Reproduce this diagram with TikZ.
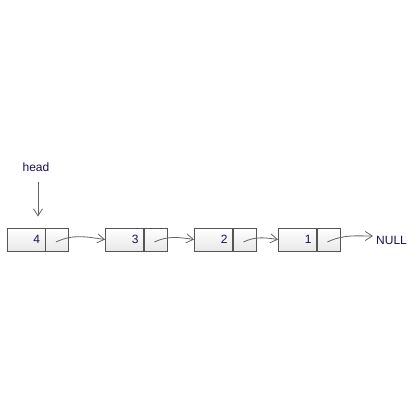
\documentclass[tikz,border=0pt]{standalone}
\usepackage{fontspec}
\setmainfont{Liberation Sans}
\usetikzlibrary{arrows.meta,calc}
\definecolor{txt}{RGB}{30,12,80}
\definecolor{edge}{RGB}{85,85,85}
\definecolor{wire}{RGB}{100,100,100}
\tikzset{
  datacell/.style={draw=edge, line width=0.9pt, top color=white, bottom color=black!9,
    minimum height=23pt, inner xsep=5pt, inner ysep=0pt, text width=28pt, align=right,
    font=\fontsize{12}{14}\selectfont, text=txt},
  ptrcell/.style={draw=edge, line width=0.9pt, top color=white, bottom color=black!9,
    minimum height=23pt, minimum width=23pt, inner sep=0pt, anchor=west},
  lbl/.style={font=\fontsize{12}{14}\selectfont, text=txt, inner sep=2pt},
  link/.style={draw=wire, line width=0.8pt, -{Straight Barb[length=7pt,width=9pt]}},
}
\begin{document}
\begin{tikzpicture}[x=1pt,y=1pt]
\useasboundingbox (0,0) rectangle (420,420);
% nodes
\node[datacell] (d1) at (26,180.5) {4};
\node[ptrcell] (p1) at (d1.east) {};
\node[datacell] (d2) at (124.5,180.5) {3};
\node[ptrcell] (p2) at (d2.east) {};
\node[datacell] (d3) at (213.5,180.5) {2};
\node[ptrcell] (p3) at (d3.east) {};
\node[datacell] (d4) at (297.5,180.5) {1};
\node[ptrcell] (p4) at (d4.east) {};
\node[lbl] (head) at (36,253) {head};
\node[lbl, anchor=west] (null) at (374,180) {NULL};
\coordinate (ht) at (38,238);
% connectors
\draw[link, shorten >=11pt] (ht) -- (d1.north -| ht);
\draw[link] ($(p1.center)+(-1.5,-2.5)$) to[out=25,in=172] (d2.west);
\draw[link] ($(p2.center)+(-1.5,-2.5)$) to[out=25,in=172] (d3.west);
\draw[link] ($(p3.center)+(-1.5,-2.5)$) to[out=25,in=172] (d4.west);
\draw[link] ($(p4.center)+(-1.5,-2.5)$) to[out=25,in=180] ($(null.west)+(-1,4)$);
\end{tikzpicture}
\end{document}
